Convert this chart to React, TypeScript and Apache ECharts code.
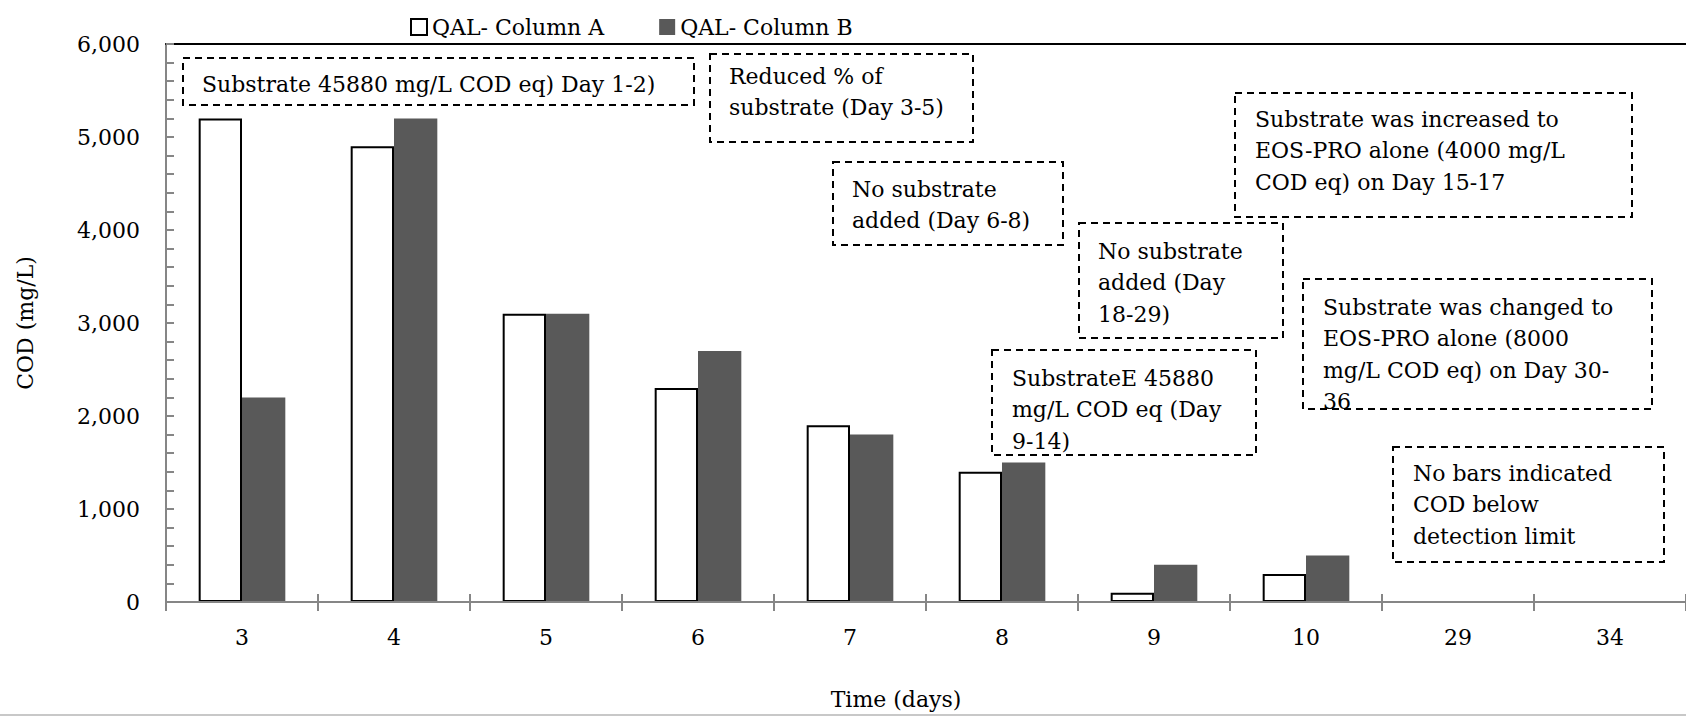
import React, { useEffect, useRef } from "react";
import * as echarts from "echarts";

const categories = ["3", "4", "5", "6", "7", "8", "9", "10", "29", "34"];
const columnA = [5200, 4900, 3100, 2300, 1900, 1400, 100, 300, null, null];
const columnB = [2200, 5200, 3100, 2700, 1800, 1500, 400, 500, null, null];
const seriesNames = ["QAL- Column A", "QAL- Column B"];
const yTicks = { min: 0, max: 6000, interval: 1000 };

const notes = [
  "Substrate 45880 mg/L COD eq) Day 1-2)",
  "Reduced % of\nsubstrate (Day 3-5)",
  "No substrate\nadded (Day 6-8)",
  "No substrate\nadded (Day\n18-29)",
  "SubstrateE 45880\nmg/L COD eq (Day\n9-14)",
  "Substrate was increased to\nEOS-PRO alone (4000 mg/L\nCOD eq) on Day 15-17",
  "Substrate was changed to\nEOS-PRO alone (8000\nmg/L COD eq) on Day 30-\n36",
  "No bars indicated\nCOD below\ndetection limit",
];

// box layout: [x1, y1, x2, y2, textLeft, firstLineCenter]
const noteBoxes = [
  [183, 58, 694, 105, 202, 84],
  [710, 54, 973, 142, 729, 76],
  [833, 162, 1063, 245, 852, 189],
  [1079, 223, 1283, 338, 1098, 251],
  [992, 350, 1256, 455, 1012, 378],
  [1235, 93, 1632, 217, 1255, 119],
  [1303, 279, 1652, 409, 1323, 307],
  [1393, 447, 1664, 562, 1413, 473],
];

const FONT = '"DejaVu Serif", serif';
const LH = 31.5;

export default function App() {
  const ref = useRef<HTMLDivElement>(null);
  useEffect(() => {
    if (!ref.current) return;
    const chart = echarts.init(ref.current, null, { renderer: "svg" });
    const graphics: any[] = [];
    noteBoxes.forEach((b, i) => {
      graphics.push({
        type: "rect",
        shape: { x: b[0], y: b[1], width: b[2] - b[0], height: b[3] - b[1] },
        style: { fill: "#fff", stroke: "#000", lineWidth: 2, lineDash: [7, 5] },
        z: 10,
      });
      graphics.push({
        type: "text",
        x: b[4],
        y: b[5] - LH / 2,
        style: {
          text: notes[i],
          fontSize: 22,
          fontFamily: FONT,
          fill: "#000",
          lineHeight: LH,
          verticalAlign: "top",
          align: "left",
        },
        z: 11,
      });
    });
    graphics.push({
      type: "text",
      x: 896,
      y: 699,
      style: { text: "Time (days)", fontSize: 22, fontFamily: FONT, fill: "#000", align: "center", verticalAlign: "middle" },
    });
    graphics.push({
      type: "line",
      shape: { x1: 0, y1: 715, x2: 1686, y2: 715 },
      style: { stroke: "#c8c8c8", lineWidth: 2 },
    });

    chart.setOption({
      animation: false,
      backgroundColor: "#fff",
      textStyle: { fontFamily: FONT },
      legend: {
        left: 405,
        top: 11,
        itemWidth: 16,
        itemHeight: 16,
        itemGap: 55,
        icon: "rect",
        textStyle: { fontSize: 22, fontFamily: FONT, color: "#000" },
        data: seriesNames,
      },
      grid: { left: 166, right: 0, top: 44, bottom: 114, containLabel: false },
      xAxis: [
        {
          type: "category",
          data: categories,
          position: "bottom",
          z: 5,
          axisLine: { lineStyle: { color: "#868686", width: 2 } },
          axisTick: { show: true, length: 9, inside: false, lineStyle: { color: "#868686", width: 2 } },
          axisLabel: { fontSize: 22, fontFamily: FONT, color: "#000", margin: 24 },
        },
        {
          type: "category",
          data: categories,
          position: "bottom",
          z: 5,
          axisLine: { show: false },
          axisTick: { show: true, length: 8, inside: true, lineStyle: { color: "#868686", width: 2 } },
          axisLabel: { show: false },
        },
        {
          type: "category",
          data: categories,
          position: "top",
          axisLine: { lineStyle: { color: "#000", width: 2 } },
          axisTick: { show: false },
          axisLabel: { show: false },
        },
      ],
      yAxis: {
        type: "value",
        min: yTicks.min,
        max: yTicks.max,
        interval: yTicks.interval,
        name: "COD (mg/L)",
        nameLocation: "middle",
        nameGap: 130,
        nameTextStyle: { fontSize: 22, fontFamily: FONT, color: "#000" },
        axisLine: { show: true, lineStyle: { color: "#868686", width: 2 } },
        axisTick: { show: true, inside: true, length: 8, lineStyle: { color: "#868686", width: 2 } },
        minorTick: { show: true, splitNumber: 5, length: 8, lineStyle: { color: "#868686", width: 2 } },
        splitLine: { show: false },
        axisLabel: {
          fontSize: 22,
          fontFamily: FONT,
          color: "#000",
          margin: 26,
          formatter: (v: number) => v.toLocaleString("en-US"),
        },
      },
      series: [
        {
          name: seriesNames[0],
          type: "bar",
          data: columnA,
          barGap: "0%",
          barCategoryGap: "43%",
          itemStyle: { color: "#fff", borderColor: "#000", borderWidth: 2 },
        },
        {
          name: seriesNames[1],
          type: "bar",
          data: columnB,
          barGap: "0%",
          barCategoryGap: "43%",
          itemStyle: { color: "#595959" },
        },
      ],
      graphic: graphics,
    });
    return () => chart.dispose();
  }, []);
  return (
    <div
      ref={ref}
      style={{ position: "fixed", left: 0, top: 0, width: 1686, height: 716 }}
    />
  );
}
